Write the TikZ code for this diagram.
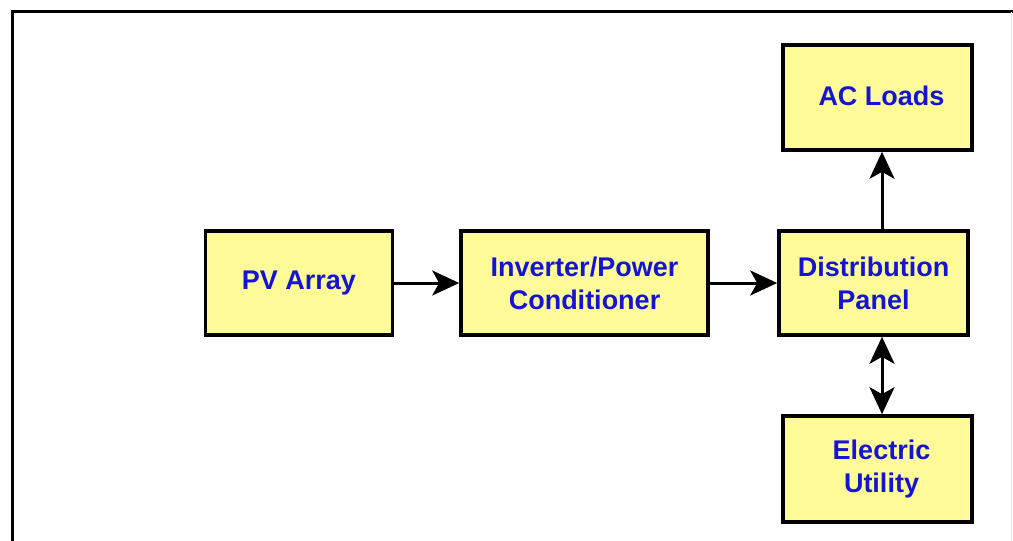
\documentclass[tikz,border=0pt]{standalone}
\usepackage{fontspec}
\setmainfont{Liberation Sans}
\usetikzlibrary{arrows.meta}
\definecolor{boxfill}{HTML}{FFFB99}
\definecolor{txtblue}{HTML}{1414D2}
\tikzset{
  blk/.style={draw=black, line width=3.6pt, fill=boxfill, inner sep=0pt,
    font=\bfseries\fontsize{27}{33}\selectfont, text=txtblue, align=center},
  conn/.style={line width=3pt, -{Stealth[length=27pt,width=25pt,inset=7pt]}},
  biconn/.style={line width=3pt, {Stealth[length=27pt,width=25pt,inset=7pt]}-{Stealth[length=27pt,width=25pt,inset=7pt]}},
}
\begin{document}
\begin{tikzpicture}[x=1pt,y=-1pt]
\useasboundingbox (0,0) rectangle (1013,541);
\fill[white] (0,0) rectangle (1013,541);
% frame
\draw[line width=3pt] (12,541) -- (12,11.5) -- (1013,11.5);
\draw[line width=1pt, black!10] (1011.5,12) -- (1011.5,541);
% boxes
\node[blk, minimum width=187pt, minimum height=104pt] (pv) at (299,283) {\raisebox{2pt}{PV Array}};
\node[blk, minimum width=247pt, minimum height=104pt] (inv) at (584.5,283) {Inverter/Power\\Conditioner};
\node[blk, minimum width=189pt, minimum height=104pt] (dist) at (873.5,283) {Distribution\\Panel};
\node[blk, minimum width=189pt, minimum height=105pt] (ac) at (877.5,97.5) {\hspace*{8pt}\raisebox{4pt}{AC Loads}};
\node[blk, minimum width=189pt, minimum height=106pt] (util) at (877.5,469) {\hspace*{8pt}Electric\\\hspace*{8pt}Utility};
% connectors
\draw[conn] (pv.east) -- (inv.west);
\draw[conn] (inv.east) -- (dist.west);
\draw[conn] (dist.north -| 882,0) -- (ac.south -| 882,0);
\draw[biconn] (dist.south -| 882,0) -- (util.north -| 882,0);
\end{tikzpicture}
\end{document}
